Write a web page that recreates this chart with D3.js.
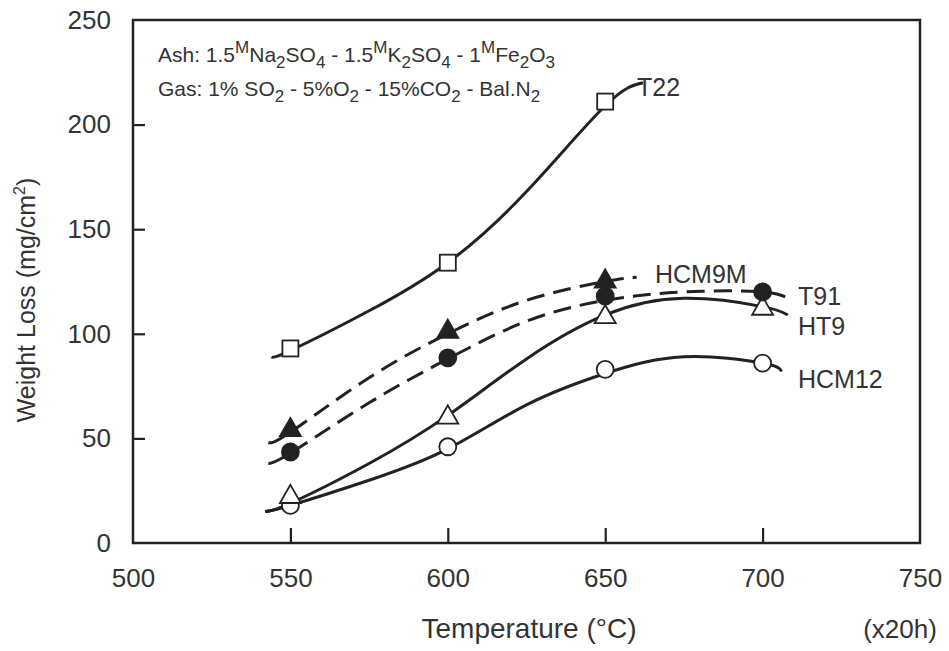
<!DOCTYPE html>
<html><head><meta charset="utf-8">
<script src="https://cdn.jsdelivr.net/npm/d3@7"></script>
<style>body{margin:0;background:#fff}svg{display:block}text{font-family:"Liberation Sans",Arial,Helvetica,sans-serif;fill:#333}</style>
</head><body>
<svg id="c" width="949" height="651"></svg>
<script>
// ---- data ----
const temps = [550, 600, 650, 700];
const xTicks = [500, 550, 600, 650, 700, 750];
const yTicks = [0, 50, 100, 150, 200, 250];
const t22 = [93, 134, 211, null];
const hcm9m = [54, 101, 125, null];
const t91 = [43.5, 88.5, 118, 120];
const ht9 = [22, 60, 108, 112];
const hcm12 = [18, 46, 83, 86];
// fitted curves (temperature, weight loss)
const t22Fit = [[544,89],[550,92],[575,111],[600,134],[625,168],[650,209],[662,220]];
const hcm9mFit = [[543,48],[550,53],[575,79],[600,100],[625,116],[650,125],[660,127]];
const t91Fit = [[543,38],[550,43],[575,67],[600,88],[625,106],[650,116],[675,120],[700,120],[709,116]];
const ht9Fit = [[542,15],[550,19],[575,38],[600,61],[625,88],[650,109],[675,117],[700,113],[708,109]];
const hcm12Fit = [[542,15],[550,18],[575,30],[600,45],[625,66],[650,81],[675,89],[700,86],[706,82]];

const svg = d3.select("#c");
const x = d3.scaleLinear().domain([500, 750]).range([133, 920]);
const y = d3.scaleLinear().domain([0, 250]).range([543, 20]);
const ink = "#222";

// frame
svg.append("rect").attr("x", x(500)).attr("y", y(250)).attr("width", x(750)-x(500)).attr("height", y(0)-y(250))
  .attr("fill", "none").attr("stroke", ink).attr("stroke-width", 2.5);

// axes (inner ticks)
const xa = svg.append("g").attr("transform", `translate(0,${y(0)})`)
  .call(d3.axisBottom(x).tickValues(xTicks).tickSize(-15).tickPadding(26).tickFormat(d3.format("d")));
const ya = svg.append("g").attr("transform", `translate(${x(500)},0)`)
  .call(d3.axisLeft(y).tickValues(yTicks).tickSize(-12).tickPadding(22).tickFormat(d3.format("d")));
[xa, ya].forEach(g => {
  g.select(".domain").remove();
  g.selectAll(".tick line").attr("stroke", ink).attr("stroke-width", 2.2);
  g.selectAll(".tick text").attr("font-size", 26).attr("fill", "#333").style("font-family", '"Liberation Sans",Arial,sans-serif');
});
xa.selectAll(".tick").filter(d => d === 500 || d === 750).select("line").remove();
ya.selectAll(".tick").filter(d => d === 0 || d === 250).select("line").remove();

// axis titles
svg.append("text").attr("x", 529).attr("y", 638).attr("text-anchor", "middle").attr("font-size", 28).text("Temperature (°C)");
svg.append("text").attr("x", 900).attr("y", 638).attr("text-anchor", "middle").attr("font-size", 26).text("(x20h)");
const yt = svg.append("text").attr("transform", "translate(35,300) rotate(-90)").attr("text-anchor", "middle").attr("font-size", 25);
yt.append("tspan").text("Weight Loss (mg/cm");
yt.append("tspan").attr("font-size", 16).attr("dy", -10).text("2");
yt.append("tspan").attr("dy", 10).text(")");

// annotation with super/subscripts
function rich(xp, yp, parts) {
  const t = svg.append("text").attr("x", xp).attr("y", yp).attr("font-size", 21);
  let cur = 0;
  parts.forEach(p => {
    const [s, k] = p;
    const off = k === "sup" ? -9 : k === "sub" ? 6 : 0;
    t.append("tspan").attr("dy", off - cur).attr("font-size", k ? 17 : 21).text(s);
    cur = off;
  });
  return t;
}
rich(158, 62, [["Ash: 1.5"],["M","sup"],["Na"],["2","sub"],["SO"],["4","sub"],[" - 1.5"],["M","sup"],["K"],["2","sub"],["SO"],["4","sub"],[" - 1"],["M","sup"],["Fe"],["2","sub"],["O"],["3","sub"]]);
rich(158, 96, [["Gas: 1% SO"],["2","sub"],[" - 5%O"],["2","sub"],[" - 15%CO"],["2","sub"],[" - Bal.N"],["2","sub"]]);

// curves
const line = d3.line().x(d => x(d[0])).y(d => y(d[1])).curve(d3.curveNatural);
const curves = [
  {fit: t22Fit, dash: null}, {fit: hcm9mFit, dash: "18,9"}, {fit: t91Fit, dash: "18,9"},
  {fit: ht9Fit, dash: null}, {fit: hcm12Fit, dash: null}
];
curves.forEach(c => {
  svg.append("path").attr("d", line(c.fit)).attr("fill", "none").attr("stroke", ink)
    .attr("stroke-width", 3).attr("stroke-dasharray", c.dash);
});

// markers
function pts(vals) { return temps.map((t, i) => [t, vals[i]]).filter(d => d[1] != null); }
const tri = d3.symbol().type(d3.symbolTriangle).size(190);
function drawMarkers(vals, kind, filled) {
  const g = svg.append("g");
  pts(vals).forEach(d => {
    const fill = filled ? ink : "#fff";
    if (kind === "square") g.append("rect").attr("x", x(d[0]) - 8).attr("y", y(d[1]) - 8).attr("width", 16).attr("height", 16).attr("fill", fill).attr("stroke", ink).attr("stroke-width", 1.8);
    if (kind === "circle") g.append("circle").attr("cx", x(d[0])).attr("cy", y(d[1])).attr("r", 8.5).attr("fill", fill).attr("stroke", ink).attr("stroke-width", 1.8);
    if (kind === "triangle") g.append("path").attr("d", tri()).attr("transform", `translate(${x(d[0])},${y(d[1])})`).attr("fill", fill).attr("stroke", ink).attr("stroke-width", 1.8);
  });
}
drawMarkers(t22, "square", false);
drawMarkers(hcm12, "circle", false);
drawMarkers(ht9, "triangle", false);
drawMarkers(t91, "circle", true);
drawMarkers(hcm9m, "triangle", true);

// series labels
const labels = [["T22", 637, 96], ["HCM9M", 655, 283], ["T91", 798, 305], ["HT9", 798, 335], ["HCM12", 798, 388]];
labels.forEach(l => svg.append("text").attr("x", l[1]).attr("y", l[2]).attr("font-size", 25).text(l[0]));
</script>
</body></html>
